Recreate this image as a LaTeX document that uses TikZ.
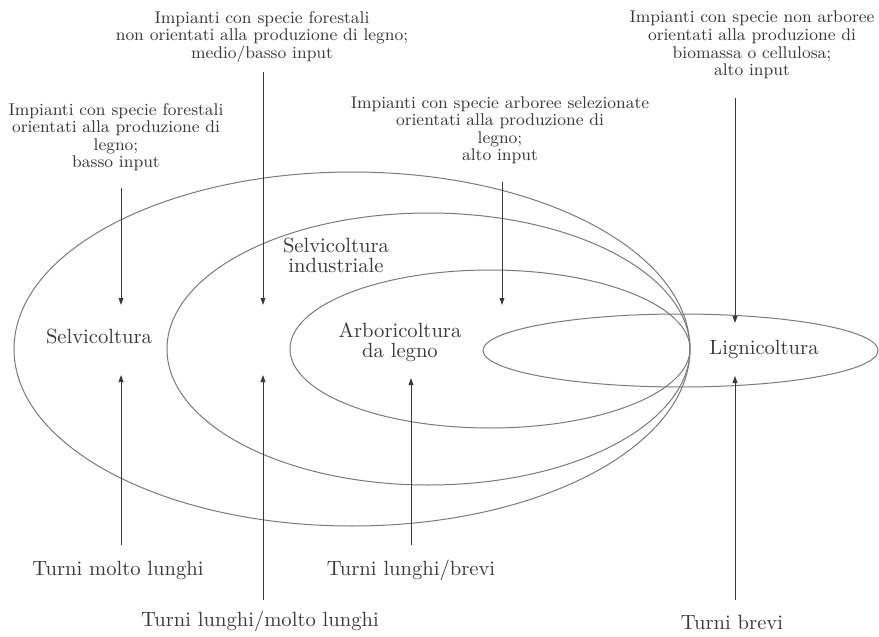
\documentclass[tikz,border=0pt]{standalone}
\usetikzlibrary{arrows.meta}
\definecolor{ink}{gray}{0.22}
\definecolor{rim}{gray}{0.48}
\tikzset{
  smalllabel/.style={font=\fontsize{8.5}{8.75}\selectfont, text=ink, align=center, inner sep=0pt},
  biglabel/.style={font=\fontsize{10.3}{10}\selectfont, text=ink, align=center, inner sep=0pt},
  zone/.style={draw=rim, line width=0.5pt},
  feed/.style={draw=ink, line width=0.45pt, -{Triangle[length=3.5pt,width=2.4pt]}},
}
\begin{document}
\begin{tikzpicture}[x=0.5pt, y=-0.5pt]
\useasboundingbox (0,0) rectangle (879,637);

% nested areas, all touching on the right
\draw[zone] (352,349) ellipse [x radius=338, y radius=177];
\draw[zone] (428.5,349) ellipse [x radius=261.5, y radius=136];
\draw[zone] (490,349) ellipse [x radius=200, y radius=79];
\draw[zone] (680.5,350.5) ellipse [x radius=197.5, y radius=36.5];

% kinds of plantation (top)
\node[smalllabel] (p1) at (116,137) {Impianti con specie forestali\\orientati alla produzione di\\legno;\\basso input};
\node[smalllabel] (p2) at (262,37) {Impianti con specie forestali\\non orientati alla produzione di legno;\\medio/basso input};
\node[smalllabel] (p3) at (500,130) {Impianti con specie arboree selezionate\\orientati alla produzione di\\legno;\\alto input};
\node[smalllabel] (p4) at (752,45) {Impianti con specie non arboree\\orientati alla produzione di\\biomassa o cellulosa;\\alto input};

% area names
\node[biglabel] (selv) at (99,336) {Selvicoltura};
\node[biglabel] (ind) at (336,255) {Selvicoltura\\industriale};
\node[biglabel] (arb) at (400,342) {Arboricoltura\\da legno};
\node[biglabel] (lig) at (764,349) {Lignicoltura};

% rotation lengths (bottom)
\node[biglabel] (r1) at (118,570) {Turni molto lunghi};
\node[biglabel] (r2) at (260,621) {Turni lunghi/molto lunghi};
\node[biglabel] (r3) at (411,570) {Turni lunghi/brevi};
\node[biglabel] (r4) at (732,622) {Turni brevi};

% connector ends
\coordinate (p1s) at (121,188);  \coordinate (p1e) at (121,305);
\coordinate (p2s) at (263,72);   \coordinate (p2e) at (263,305);
\coordinate (p3s) at (502,182);  \coordinate (p3e) at (502,305);
\coordinate (p4s) at (735,98);   \coordinate (p4e) at (735,323);
\coordinate (r1s) at (121,545);  \coordinate (r1e) at (121,375);
\coordinate (r2s) at (263,600);  \coordinate (r2e) at (263,375);
\coordinate (r3s) at (411,545);  \coordinate (r3e) at (411,378);
\coordinate (r4s) at (735,600);  \coordinate (r4e) at (735,376);

\draw[feed] (p1s) -- (p1e);
\draw[feed] (p2s) -- (p2e);
\draw[feed] (p3s) -- (p3e);
\draw[feed] (p4s) -- (p4e);
\draw[feed] (r1s) -- (r1e);
\draw[feed] (r2s) -- (r2e);
\draw[feed] (r3s) -- (r3e);
\draw[feed] (r4s) -- (r4e);
\end{tikzpicture}
\end{document}
